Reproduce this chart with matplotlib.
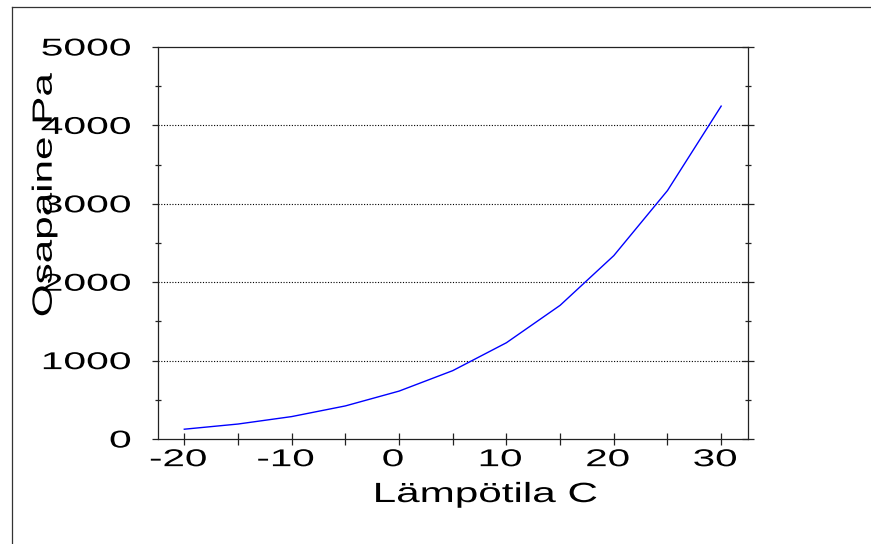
import matplotlib
matplotlib.use('Agg')
import matplotlib.pyplot as plt
from matplotlib.lines import Line2D
from matplotlib.patheffects import AbstractPathEffect
from matplotlib.transforms import Affine2D

# vapour pressure of water over temperature
temps = [-20, -15, -10, -5, 0, 5, 10, 15, 20, 25, 30]
pressure = [125, 191, 286, 422, 611, 872, 1228, 1705, 2339, 3169, 4246]

xticks = [-20, -15, -10, -5, 0, 5, 10, 15, 20, 25, 30]
xticklabels = ['-20', '', '-10', '', '0', '', '10', '', '20', '', '30']
yticks = [0, 1000, 2000, 3000, 4000, 5000]
yminor = [500, 1500, 2500, 3500, 4500]


class Stretch(AbstractPathEffect):
    # widen glyphs horizontally, the original plot has wide lettering
    def __init__(self, sx, anchor='center', dx=0):
        super().__init__()
        self.sx = sx
        self.anchor = anchor
        self.dx = dx

    def draw_path(self, renderer, gc, tpath, affine, rgbFace=None):
        ext = tpath.get_extents()
        x0 = {'left': ext.x0, 'center': (ext.x0 + ext.x1) / 2, 'right': ext.x1}[self.anchor]
        t = Affine2D().translate(-x0, 0).scale(self.sx, 1).translate(x0, 0)
        renderer.draw_path(gc, tpath, t + affine + Affine2D().translate(self.dx, 0), rgbFace)


plt.rcParams['font.family'] = ['Liberation Sans', 'DejaVu Sans']

fig = plt.figure(figsize=(8.71, 5.44), dpi=100)
ax = fig.add_axes([0.1814, 0.1930, 0.6774, 0.7206])

ax.plot(temps, pressure, color='#0000ff', lw=1.0)

ax.set_xlim(-22.45, 32.5)
ax.set_ylim(0, 5000)

for v in yticks[1:-1]:
    ax.axhline(v, color='black', lw=0.8, linestyle=(0, (1, 1.5)), zorder=0)

ax.set_xticks(xticks)
ax.set_xticklabels(xticklabels)
ax.set_yticks(yticks)
ax.set_yticks(yminor, minor=True)
ax.set_yticklabels([str(v) for v in yticks])

for s in ax.spines.values():
    s.set_linewidth(0.9)
    s.set_color('#222222')

ax.tick_params(axis='x', which='major', direction='inout', length=8.6, width=0.9,
               labelsize=17.5, pad=3, top=False, color='#222222')
ax.tick_params(axis='y', which='major', direction='out', length=4.3, width=0.9,
               labelsize=17.5, pad=15, right=False, color='#222222')
ax.tick_params(axis='y', which='minor', direction='inout', length=4.3, width=0.9,
               left=True, right=True, color='#222222')

# right side major ticks cross the spine
for v in yticks:
    ax.plot([1.0], [v], marker='_', markersize=8.6, mew=0.9, color='#222222',
            transform=ax.get_yaxis_transform(), clip_on=False)

for lab in ax.get_yticklabels():
    lab.set_path_effects([Stretch(1.68, 'right')])
for lab in ax.get_xticklabels():
    lab.set_path_effects([Stretch(1.66, 'center', dx=-6)])

ax.set_xlabel('Lämpötila C', fontsize=20, va='top')
ax.xaxis.set_label_coords(0.555, -0.1097)
ax.xaxis.label.set_path_effects([Stretch(1.52, 'center')])

ax.set_ylabel('Osapaine Pa', fontsize=20)
ax.yaxis.set_label_coords(-0.170, 0.6224)
ax.yaxis.label.set_path_effects([Stretch(1.52, 'center')])

# frame around the figure, only left and top edges are inside the image
fig.add_artist(Line2D([11.5 / 871, 11.5 / 871], [0, 1 - 6.5 / 544],
                      transform=fig.transFigure, color='#333333', lw=0.9))
fig.add_artist(Line2D([11.5 / 871, 1], [1 - 6.5 / 544, 1 - 6.5 / 544],
                      transform=fig.transFigure, color='#333333', lw=0.9))

plt.savefig('out.png', dpi=100)
